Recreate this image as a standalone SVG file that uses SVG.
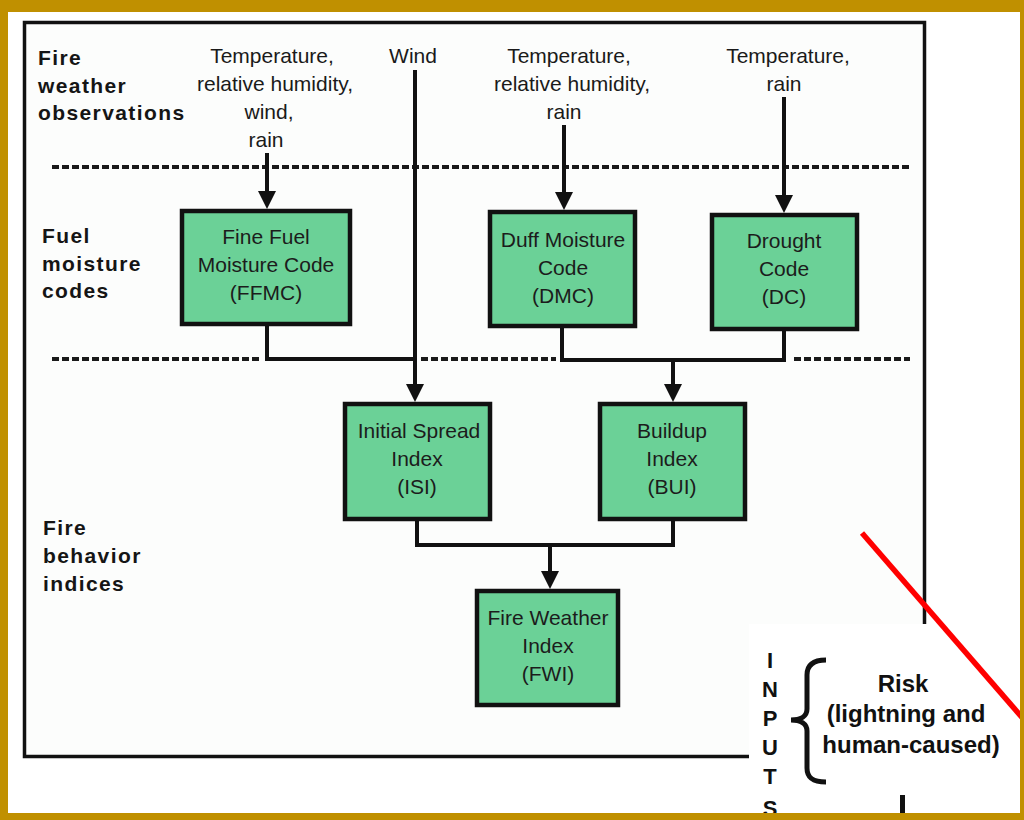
<svg xmlns="http://www.w3.org/2000/svg" width="1024" height="820" viewBox="0 0 1024 820">
  <style>
    .lbl { font-family: "Liberation Sans", Arial, sans-serif; font-size: 21px; font-weight: bold; letter-spacing: 1.4px; fill: #151515; }
    .obs { font-family: "Liberation Sans", Arial, sans-serif; font-size: 21px; fill: #1a1a1a; text-anchor: middle; }
    .node rect { fill: #6BD197; stroke: #111; stroke-width: 4.5; }
    .node text { font-family: "Liberation Sans", Arial, sans-serif; font-size: 21px; fill: #1c1c1c; text-anchor: middle; }
    .dots { stroke: #1a1a1a; stroke-width: 4; stroke-dasharray: 7 3; fill: none; }
    .conn { stroke: #111; stroke-width: 4; fill: none; }
    .inset { font-family: "Liberation Sans", Arial, sans-serif; font-weight: bold; fill: #111; }
  </style>
  <defs>
    <marker id="head" viewBox="0 0 18 18" markerWidth="18" markerHeight="18" refX="10" refY="9" orient="auto" markerUnits="userSpaceOnUse">
      <path d="M0,0 L18,9 L0,18 z" fill="#111"/>
    </marker>
  </defs>

  <!-- page background and outer frame -->
  <rect x="0" y="0" width="1024" height="820" fill="#ffffff"/>
  <rect x="24.5" y="22.5" width="900" height="734" fill="#fcfdfc" stroke="#111" stroke-width="3.5"/>

  <!-- tier separators -->
  <g id="separators">
    <line class="dots" x1="52" y1="167" x2="910" y2="167"/>
    <line class="dots" x1="52" y1="359" x2="262" y2="359"/>
    <line class="dots" x1="421" y1="359" x2="556" y2="359"/>
    <line class="dots" x1="794" y1="359" x2="910" y2="359"/>
  </g>

  <!-- row labels -->
  <g id="row-labels">
    <text class="lbl" x="38" y="65">Fire</text>
    <text class="lbl" x="38" y="93">weather</text>
    <text class="lbl" x="38" y="120">observations</text>
    <text class="lbl" x="42" y="243">Fuel</text>
    <text class="lbl" x="42" y="271">moisture</text>
    <text class="lbl" x="42" y="298">codes</text>
    <text class="lbl" x="43" y="535">Fire</text>
    <text class="lbl" x="43" y="563">behavior</text>
    <text class="lbl" x="43" y="591">indices</text>
  </g>

  <!-- weather inputs -->
  <g id="inputs">
    <text class="obs" x="272" y="63">Temperature,</text>
    <text class="obs" x="275" y="91">relative humidity,</text>
    <text class="obs" x="269" y="119">wind,</text>
    <text class="obs" x="266" y="147">rain</text>
    <text class="obs" x="413" y="63">Wind</text>
    <text class="obs" x="569" y="63">Temperature,</text>
    <text class="obs" x="572" y="91">relative humidity,</text>
    <text class="obs" x="564" y="119">rain</text>
    <text class="obs" x="788" y="63">Temperature,</text>
    <text class="obs" x="784" y="91">rain</text>
  </g>

  <!-- connectors -->
  <g id="connectors">
    <line class="conn" x1="267" y1="153" x2="267" y2="201" marker-end="url(#head)"/>
    <line class="conn" x1="415" y1="70" x2="415" y2="394" marker-end="url(#head)"/>
    <line class="conn" x1="564" y1="125" x2="564" y2="202" marker-end="url(#head)"/>
    <line class="conn" x1="784" y1="97" x2="784" y2="205" marker-end="url(#head)"/>
    <path class="conn" d="M267,324 V359 H415"/>
    <path class="conn" d="M562,326 V360 H784 V329"/>
    <line class="conn" x1="673" y1="360" x2="673" y2="394" marker-end="url(#head)"/>
    <path class="conn" d="M417,519 V545 H673 V519"/>
    <line class="conn" x1="550" y1="545" x2="550" y2="581" marker-end="url(#head)"/>
  </g>

  <!-- fuel moisture codes -->
  <g id="ffmc" class="node">
    <rect x="182" y="211" width="168" height="113"/>
    <text x="266" y="244">Fine Fuel</text>
    <text x="266" y="272">Moisture Code</text>
    <text x="266" y="300">(FFMC)</text>
  </g>
  <g id="dmc" class="node">
    <rect x="490" y="212" width="145" height="114"/>
    <text x="563" y="247">Duff Moisture</text>
    <text x="563" y="275">Code</text>
    <text x="563" y="303">(DMC)</text>
  </g>
  <g id="dc" class="node">
    <rect x="712" y="215" width="145" height="114"/>
    <text x="784" y="248">Drought</text>
    <text x="784" y="276">Code</text>
    <text x="784" y="304">(DC)</text>
  </g>

  <!-- fire behaviour indices -->
  <g id="isi" class="node">
    <rect x="345" y="404" width="145" height="115"/>
    <text x="419" y="438">Initial Spread</text>
    <text x="417" y="466">Index</text>
    <text x="417" y="494">(ISI)</text>
  </g>
  <g id="bui" class="node">
    <rect x="600" y="404" width="145" height="115"/>
    <text x="672" y="438">Buildup</text>
    <text x="672" y="466">Index</text>
    <text x="672" y="494">(BUI)</text>
  </g>
  <g id="fwi" class="node">
    <rect x="477" y="591" width="141" height="114"/>
    <text x="548" y="625">Fire Weather</text>
    <text x="548" y="653">Index</text>
    <text x="548" y="681">(FWI)</text>
  </g>

  <!-- overlaid inputs panel -->
  <g id="risk-panel">
    <rect x="749" y="624" width="274" height="190" fill="#ffffff"/>
    <g class="inset" font-size="22" text-anchor="middle">
      <text x="770" y="668">I</text>
      <text x="770" y="697">N</text>
      <text x="770" y="726">P</text>
      <text x="770" y="755">U</text>
      <text x="770" y="784">T</text>
      <text x="770" y="816">S</text>
    </g>
    <path d="M826,660 C813,660 807,665 807,675 L807,709 C807,716 801,720 791,720 C801,720 807,724 807,731 L807,768 C807,778 813,782 826,782" fill="none" stroke="#111" stroke-width="5"/>
    <g class="inset" font-size="24" text-anchor="middle">
      <text x="903" y="692">Risk</text>
      <text x="906" y="722">(lightning and</text>
      <text x="911" y="753">human-caused)</text>
    </g>
    <rect x="900" y="795" width="5" height="20" fill="#111"/>
  </g>

  <!-- red strike line -->
  <line x1="862" y1="533" x2="1026" y2="722" stroke="#ff0000" stroke-width="5.5"/>

  <!-- gold page border -->
  <path d="M0,0 H1024 V820 H0 Z M8,12 V813 H1020 V12 Z" fill="#c09000" fill-rule="evenodd"/>
</svg>
